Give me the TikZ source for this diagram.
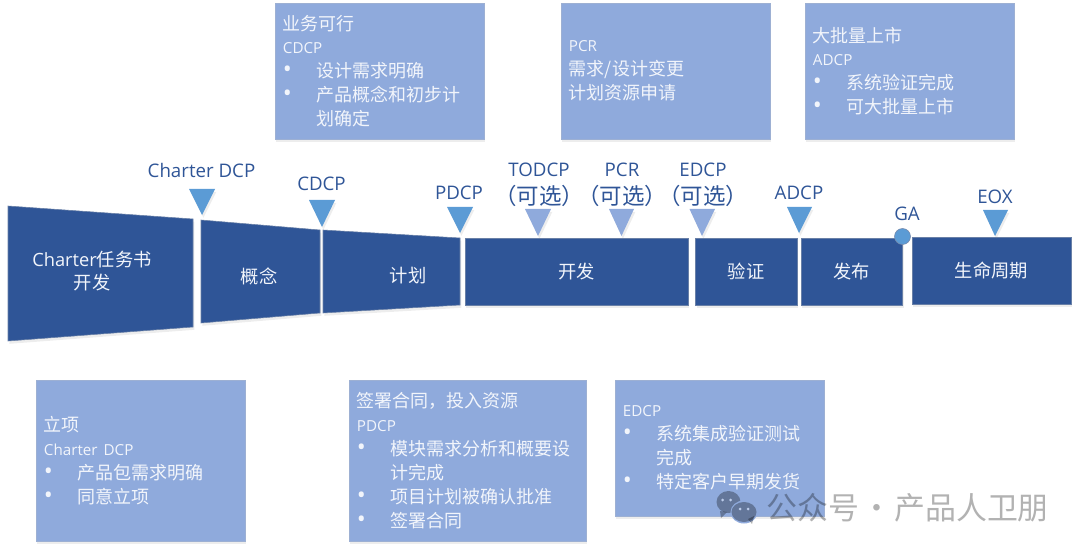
\documentclass[tikz,border=0pt]{standalone}
\usepackage{fontspec}
\setmainfont{Noto Sans CJK SC}
\newfontfamily\latinfont{Open Sans}
\usetikzlibrary{shadows}
\definecolor{bardark}{HTML}{2F5597}
\definecolor{boxlight}{HTML}{8FAADC}
\definecolor{markblue}{HTML}{5B9BD5}
\definecolor{softwhite}{HTML}{F2F5FB}
\newcommand{\en}[1]{{\latinfont\fontsize{10.8}{17}\selectfont #1}}
\newcommand{\bulletrow}[1]{\makebox[24pt][l]{\latinfont\fontsize{17}{17}\selectfont\textbullet}#1}
\newcommand{\controw}[1]{\hspace*{24pt}#1}
\newcommand{\optional}{{\rmfamily\fontsize{16}{20}\selectfont\hspace*{-0.45em}（可选）\hspace*{-0.45em}}}

\begin{document}
\begin{tikzpicture}[
        x=0.025cm, y=-0.025cm,
        softshadow/.style={drop shadow={opacity=0.14, shadow xshift=1pt, shadow yshift=-2pt}},
        infobox/.style={draw=boxlight!70!lightgray, line width=0.4pt, fill=boxlight, softshadow, text=softwhite,
            inner xsep=0.2cm, inner ysep=0pt, minimum height=3.4cm, text width=4.825cm, align=left,
            font=\fontsize{12.8}{17}\selectfont},
        bar/.style={draw=bardark!60!lightgray, line width=0.4pt, fill=bardark, softshadow},
        barbox/.style={bar, inner sep=0pt, text=softwhite, font=\fontsize{13}{16}\selectfont},
        bartext/.style={text=softwhite, align=center, font=\fontsize{13}{16}\selectfont},
        marklabel/.style={text=bardark, align=center, inner sep=0pt, font=\latinfont\fontsize{13.3}{20}\selectfont},
        mark main/.style={fill=markblue, softshadow},
        mark option/.style={fill=boxlight, softshadow},
        wechat/.style={fill=black, opacity=0.3}
      ]
        \useasboundingbox (0,0) rectangle (1080,551);

        % info boxes, top row
        \node[infobox] (cdcpbox) at (379.5,71) {业务可行\\\en{CDCP}\\\bulletrow{设计需求明确}\\\bulletrow{产品概念和初步计}\\\controw{划确定}};
        \node[infobox] (pcrbox) at (665.5,71) {\en{PCR}\\需求/设计变更\\计划资源申请};
        \node[infobox] (adcpbox) at (909.5,71) {大批量上市\\\en{ADCP}\\\bulletrow{系统验证完成}\\\bulletrow{可大批量上市}};

        % info boxes, bottom row
        \node[infobox, minimum height=4.025cm] (dcpbox) at (140.5,460.5) {立项\\\en{Charter DCP}\\\bulletrow{产品包需求明确}\\\bulletrow{同意立项}};
        \node[infobox, minimum height=4.025cm, text width=5.525cm] (pdcpbox) at (467.5,460.5) {签署合同，投入资源\\\en{PDCP}\\\bulletrow{模块需求分析和概要设}\\\controw{计完成}\\\bulletrow{项目计划被确认批准}\\\bulletrow{签署合同}};
        \node[infobox] (edcpbox) at (719.5,448) {\en{EDCP}\\\bulletrow{系统集成验证测试}\\\controw{完成}\\\bulletrow{特定客户早期发货}};

        % funnel stages
        \path[bar] (8,206) -- (193,219) -- (193,327) -- (8,341) -- cycle;
        \path[bar] (201,220) -- (320,230) -- (320,313) -- (201,323) -- cycle;
        \path[bar] (323,230) -- (460,238) -- (460,305) -- (323,313) -- cycle;
        \node[bartext] (charter) at (92,271) {{\latinfont Charter}任务书\\开发};
        \node[bartext] (concept) at (259,276) {概念};
        \node[bartext] (plan) at (408,276) {计划};

        % flat stages
        \node[barbox, minimum width=5.575cm, minimum height=1.675cm] (dev) at (576.5,271.5) {开发};
        \node[barbox, minimum width=2.5375cm, minimum height=1.675cm] (verify) at (746.25,271.5) {验证};
        \node[barbox, minimum width=2.5375cm, minimum height=1.675cm] (release) at (851.75,271.5) {发布};
        \node[barbox, minimum width=3.975cm, minimum height=1.675cm] (life) at (991.5,270.5) {生命周期};

        % decision points
        \path[mark main] (189,189) -- (215,189) -- (202,215) -- cycle;
        \path[mark main] (309,200) -- (335,200) -- (322,227) -- cycle;
        \path[mark main] (447,207) -- (473,207) -- (460,233) -- cycle;
        \path[mark option] (525,209) -- (551,209) -- (538,236) -- cycle;
        \path[mark option] (609,209) -- (634,209) -- (621.5,236) -- cycle;
        \path[mark option] (689.5,209) -- (715,209) -- (702,236) -- cycle;
        \path[mark main] (787,207) -- (812,207) -- (799,233) -- cycle;
        \path[mark main] (983,210) -- (1008,210) -- (995,236) -- cycle;
        \node[circle, draw=bardark!50!lightgray, line width=0.4pt, fill=markblue, minimum size=0.4cm, inner sep=0pt] (gapoint) at (902.5,236.5) {};

        \node[marklabel] (dcplabel) at (201.5,170) {Charter DCP};
        \node[marklabel] (cdcplabel) at (321.5,184) {CDCP};
        \node[marklabel] (pdcplabel) at (459,193) {PDCP};
        \node[marklabel] (todcplabel) at (539,185) {TODCP\\\optional};
        \node[marklabel] (pcrlabel) at (622,185) {PCR\\\optional};
        \node[marklabel] (edcplabel) at (703,185) {EDCP\\\optional};
        \node[marklabel] (adcplabel) at (799,193) {ADCP};
        \node[marklabel] (galabel) at (907,214) {GA};
        \node[marklabel] (eoxlabel) at (995,197) {EOX};

        % account mark
        \path[wechat] (728.5,502) ellipse (12 and 11);
        \path[wechat] (720,511) -- (721,518) -- (727,512) -- cycle;
        \fill[boxlight] (744,512) ellipse (13.5 and 11.5);
        \path[wechat] (744,512) ellipse (12.5 and 10);
        \path[wechat] (748,519) -- (752,524) -- (754,516) -- cycle;
        \fill[boxlight!60!white] (722.7,500) circle (1.5) (730.7,500) circle (1.5) (740,509) circle (1.5) (748,509) circle (1.5);
        \node[text=black, text opacity=0.3, inner sep=0pt, anchor=west, font=\fontsize{22}{24}\selectfont] (account) at (766,508) {公众号\hspace{2pt}·\hspace{1pt}产品人卫朋};
    \end{tikzpicture}
\end{document}
